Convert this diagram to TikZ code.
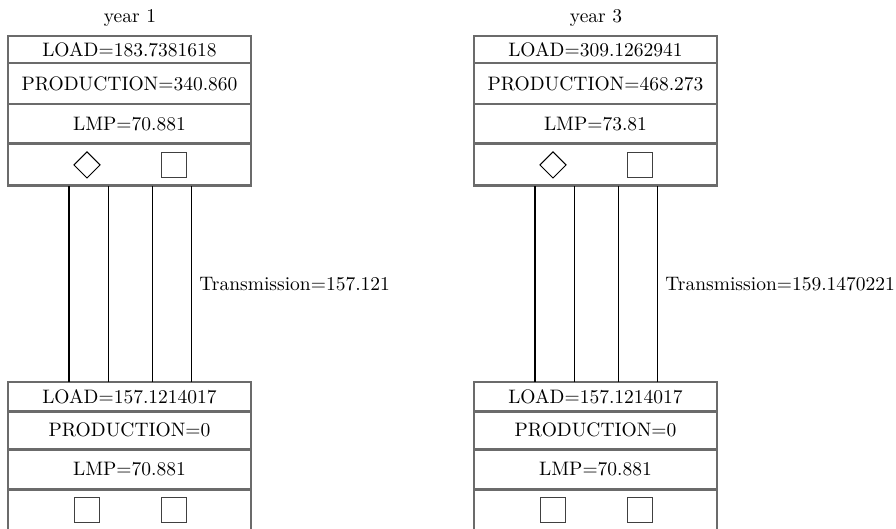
\documentclass[tikz,border=0pt]{standalone}
\usetikzlibrary{shapes.geometric,calc}
\begin{document}
\begin{tikzpicture}[x=0.5128pt,y=-0.5128pt,
  cell/.style={draw=black!58, line width=1.5pt, minimum width=124.6pt,
    anchor=north west, inner sep=0pt, outer sep=0pt},
  gen/.style={diamond, draw, line width=0.5pt, minimum size=13.6pt, inner sep=0pt},
  sq/.style={rectangle, draw=black!75, line width=0.6pt, minimum size=12.6pt, inner sep=0pt},
  link/.style={line width=0.5pt},
  mainlink/.style={line width=1pt},
  lbl/.style={inner sep=0pt}]
\useasboundingbox (0,0) rectangle (896,528);
\clip (0,0) rectangle (896,528);

% ---------- year 1 ----------
\node[lbl, anchor=base] (y1) at (130,22) {year 1};
\node[cell, minimum height=13.85pt] (a1) at (8,36) {LOAD=183.7381618};
\node[cell, minimum height=21pt]    (a2) at (a1.south west) {PRODUCTION=340.860};
\node[cell, minimum height=20.5pt]  (a3) at (a2.south west) {LMP=70.881};
\node[cell, minimum height=21.5pt]  (a4) at (a3.south west) {};
\node[gen] (ag) at ($(a4.west)+(79,0)$) {};
\node[sq]  (as) at ($(a4.west)+(166,0)$) {};

\node[cell, minimum height=14.9pt] (b1) at (8,382) {LOAD=157.1214017};
\node[cell, minimum height=19.5pt] (b2) at (b1.south west) {PRODUCTION=0};
\node[cell, minimum height=20.5pt] (b3) at (b2.south west) {LMP=70.881};
\node[cell, minimum height=23pt]   (b4) at (b3.south west) {};
\node[sq] (bs1) at ($(b4.north west)+(79,21)$) {};
\node[sq] (bs2) at ($(b4.north west)+(166,21)$) {};

\draw[mainlink] ($(a4.south west)+(61,0)$) -- ($(b1.north west)+(61,0)$);
\draw[link] ($(a4.south west)+(100,0)$) -- ($(b1.north west)+(100,0)$);
\draw[link] ($(a4.south west)+(144,0)$) -- ($(b1.north west)+(144,0)$);
\draw[link] ($(a4.south west)+(183,0)$) -- ($(b1.north west)+(183,0)$);
\node[lbl, anchor=west] (t1) at (199,284) {Transmission=157.121};

% ---------- year 3 ----------
\node[lbl, anchor=base] (y3) at (596,22) {year 3};
\node[cell, minimum height=13.85pt] (c1) at (474,36) {LOAD=309.1262941};
\node[cell, minimum height=21pt]    (c2) at (c1.south west) {PRODUCTION=468.273};
\node[cell, minimum height=20.5pt]  (c3) at (c2.south west) {LMP=73.81};
\node[cell, minimum height=21.5pt]  (c4) at (c3.south west) {};
\node[gen] (cg) at ($(c4.west)+(79,0)$) {};
\node[sq]  (cs) at ($(c4.west)+(166,0)$) {};

\node[cell, minimum height=14.9pt] (d1) at (474,382) {LOAD=157.1214017};
\node[cell, minimum height=19.5pt] (d2) at (d1.south west) {PRODUCTION=0};
\node[cell, minimum height=20.5pt] (d3) at (d2.south west) {LMP=70.881};
\node[cell, minimum height=23pt]   (d4) at (d3.south west) {};
\node[sq] (ds1) at ($(d4.north west)+(79,21)$) {};
\node[sq] (ds2) at ($(d4.north west)+(166,21)$) {};

\draw[mainlink] ($(c4.south west)+(61,0)$) -- ($(d1.north west)+(61,0)$);
\draw[link] ($(c4.south west)+(100,0)$) -- ($(d1.north west)+(100,0)$);
\draw[link] ($(c4.south west)+(144,0)$) -- ($(d1.north west)+(144,0)$);
\draw[link] ($(c4.south west)+(183,0)$) -- ($(d1.north west)+(183,0)$);
\node[lbl, anchor=west] (t3) at (665,284) {Transmission=159.1470221};
\end{tikzpicture}
\end{document}
